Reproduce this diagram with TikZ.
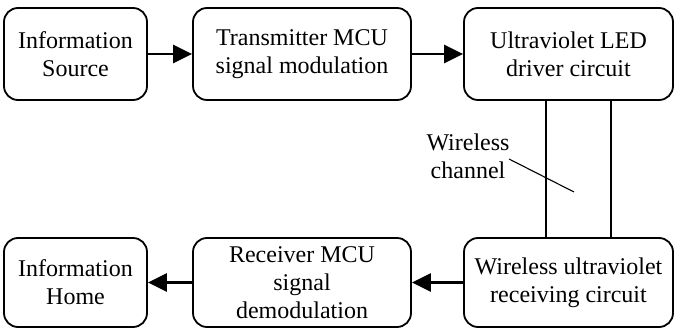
\documentclass[tikz,border=0pt]{standalone}
\usepackage{fontspec}
\setmainfont{Liberation Serif}
\usetikzlibrary{arrows.meta}
\begin{document}
\begin{tikzpicture}[x=1pt,y=1pt,
  txt/.style={font=\rmfamily\fontsize{24}{28}\selectfont, align=center, inner sep=0pt},
  blk/.style={txt, draw, line width=1.8pt, rounded corners=14pt},
  arr/.style={line width=2.4pt, -{Triangle[length=19pt,width=18pt]}},
  ln/.style={line width=1.6pt}]
\useasboundingbox (0,0) rectangle (676,329);
\node[blk, minimum width=143pt, minimum height=92pt] (src) at (75.5,275) {Information\\Source};
\node[blk, minimum width=218pt, minimum height=92pt] (tx) at (302,275) {Transmitter MCU\\signal modulation};
\node[blk, minimum width=209pt, minimum height=92pt] (led) at (568.5,275) {Ultraviolet LED\\driver circuit};
\node[blk, minimum width=143pt, minimum height=89pt] (home) at (75.5,46.5) {Information\\Home};
\node[blk, minimum width=218pt, minimum height=89pt] (rx) at (302,46.5) {Receiver MCU\\signal\\demodulation};
\node[blk, minimum width=209pt, minimum height=89pt] (wr) at (568.5,46.5) {Wireless ultraviolet\\receiving circuit};
\draw[arr] (src) -- (tx);
\draw[arr] (tx) -- (led);
\draw[arr] (wr) -- (rx);
\draw[arr] (rx) -- (home);
\draw[ln] (led.south -| 546,0) -- (wr.north -| 546,0);
\draw[ln] (led.south -| 611,0) -- (wr.north -| 611,0);
\node[txt] (wc) at (468,173) {Wireless\\channel};
\coordinate (d1) at (509,170);
\coordinate (d2) at (574,137);
\draw[line width=1.1pt] (d1) -- (d2);
\end{tikzpicture}
\end{document}
